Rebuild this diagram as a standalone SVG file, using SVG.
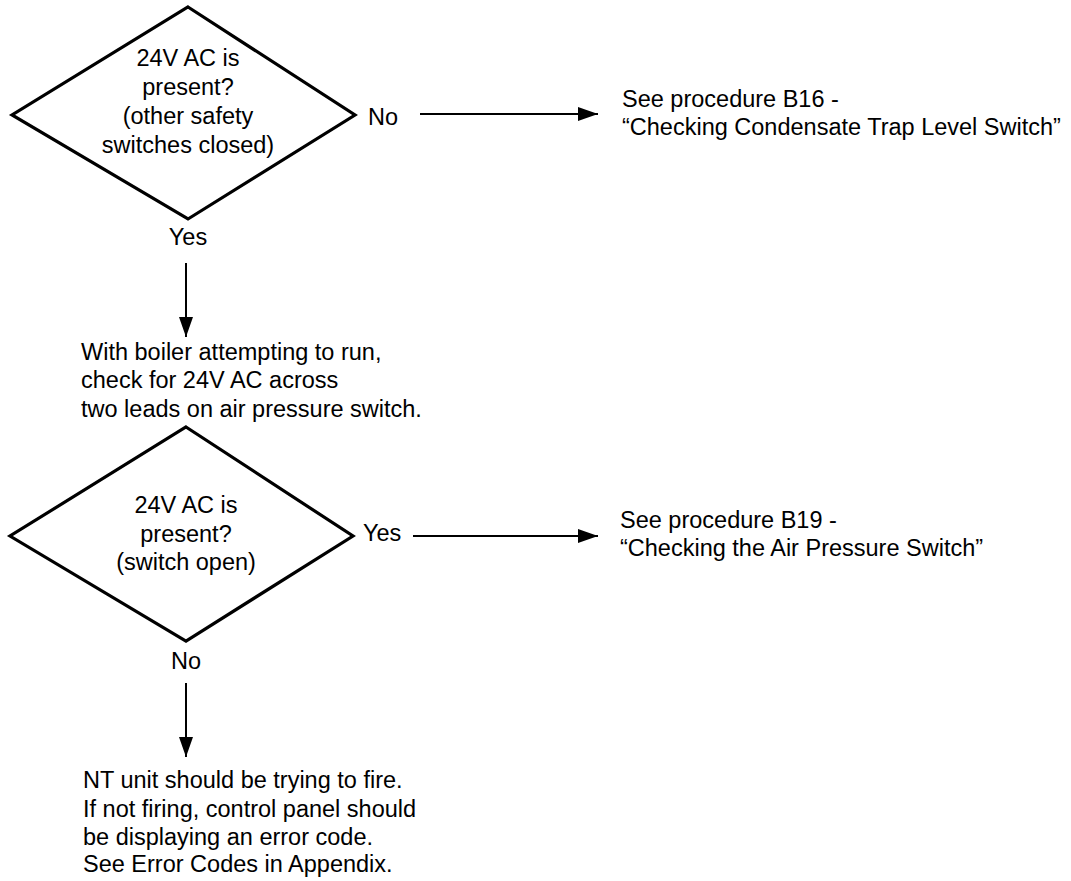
<svg xmlns="http://www.w3.org/2000/svg" width="1071" height="881" viewBox="0 0 1071 881">
  <style>
    .t { font-family: "Liberation Sans", Arial, Helvetica, sans-serif; font-size: 23.5px; fill: #000; }
    .c { text-anchor: middle; }
    .dia { fill: none; stroke: #000; stroke-width: 3.2; stroke-linejoin: miter; }
    .conn { stroke: #000; stroke-width: 2; fill: none; }
  </style>
  <defs>
    <marker id="arrow" markerUnits="userSpaceOnUse" markerWidth="20" markerHeight="14" refX="20" refY="7" orient="auto">
      <path d="M0,0 L20,7 L0,14 Z" fill="#000"/>
    </marker>
  </defs>
  <rect width="1071" height="881" fill="#fff"/>

  <!-- Decision: 24V AC across safety circuit -->
  <g id="decision1">
    <polygon class="dia" points="188,7 355,115 188,219 12,115"/>
    <text class="t c" x="188" y="66">24V AC is</text>
    <text class="t c" x="188" y="95">present?</text>
    <text class="t c" x="188" y="124">(other safety</text>
    <text class="t c" x="188" y="153">switches closed)</text>
  </g>
  <g id="label-no1"><text class="t" x="368" y="125">No</text></g>
  <g id="label-yes1"><text class="t c" x="188" y="245">Yes</text></g>

  <g id="result-b16">
    <text class="t" x="622" y="107">See procedure B16 -</text>
    <text class="t" x="622" y="135">“Checking Condensate Trap Level Switch”</text>
  </g>

  <g id="step-check">
    <text class="t" x="81" y="360">With boiler attempting to run,</text>
    <text class="t" x="81" y="388">check for 24V AC across</text>
    <text class="t" x="81" y="417">two leads on air pressure switch.</text>
  </g>

  <!-- Decision: 24V AC across air pressure switch -->
  <g id="decision2">
    <polygon class="dia" points="186,427 353,536 186,641 10,536"/>
    <text class="t c" x="186" y="513">24V AC is</text>
    <text class="t c" x="186" y="542">present?</text>
    <text class="t c" x="186" y="570">(switch open)</text>
  </g>
  <g id="label-yes2"><text class="t" x="363" y="541">Yes</text></g>
  <g id="label-no2"><text class="t c" x="186" y="669">No</text></g>

  <g id="result-b19">
    <text class="t" x="620" y="528">See procedure B19 -</text>
    <text class="t" x="620" y="556">“Checking the Air Pressure Switch”</text>
  </g>

  <g id="result-fire">
    <text class="t" x="83" y="788">NT unit should be trying to fire.</text>
    <text class="t" x="83" y="817">If not firing, control panel should</text>
    <text class="t" x="83" y="845">be displaying an error code.</text>
    <text class="t" x="83" y="872">See Error Codes in Appendix.</text>
  </g>

  <g id="connectors">
    <line class="conn" x1="420" y1="114" x2="598" y2="114" marker-end="url(#arrow)"/>
    <line class="conn" x1="186" y1="263" x2="186" y2="337" marker-end="url(#arrow)"/>
    <line class="conn" x1="413" y1="536" x2="598" y2="536" marker-end="url(#arrow)"/>
    <line class="conn" x1="186" y1="683" x2="186" y2="757" marker-end="url(#arrow)"/>
  </g>
</svg>
